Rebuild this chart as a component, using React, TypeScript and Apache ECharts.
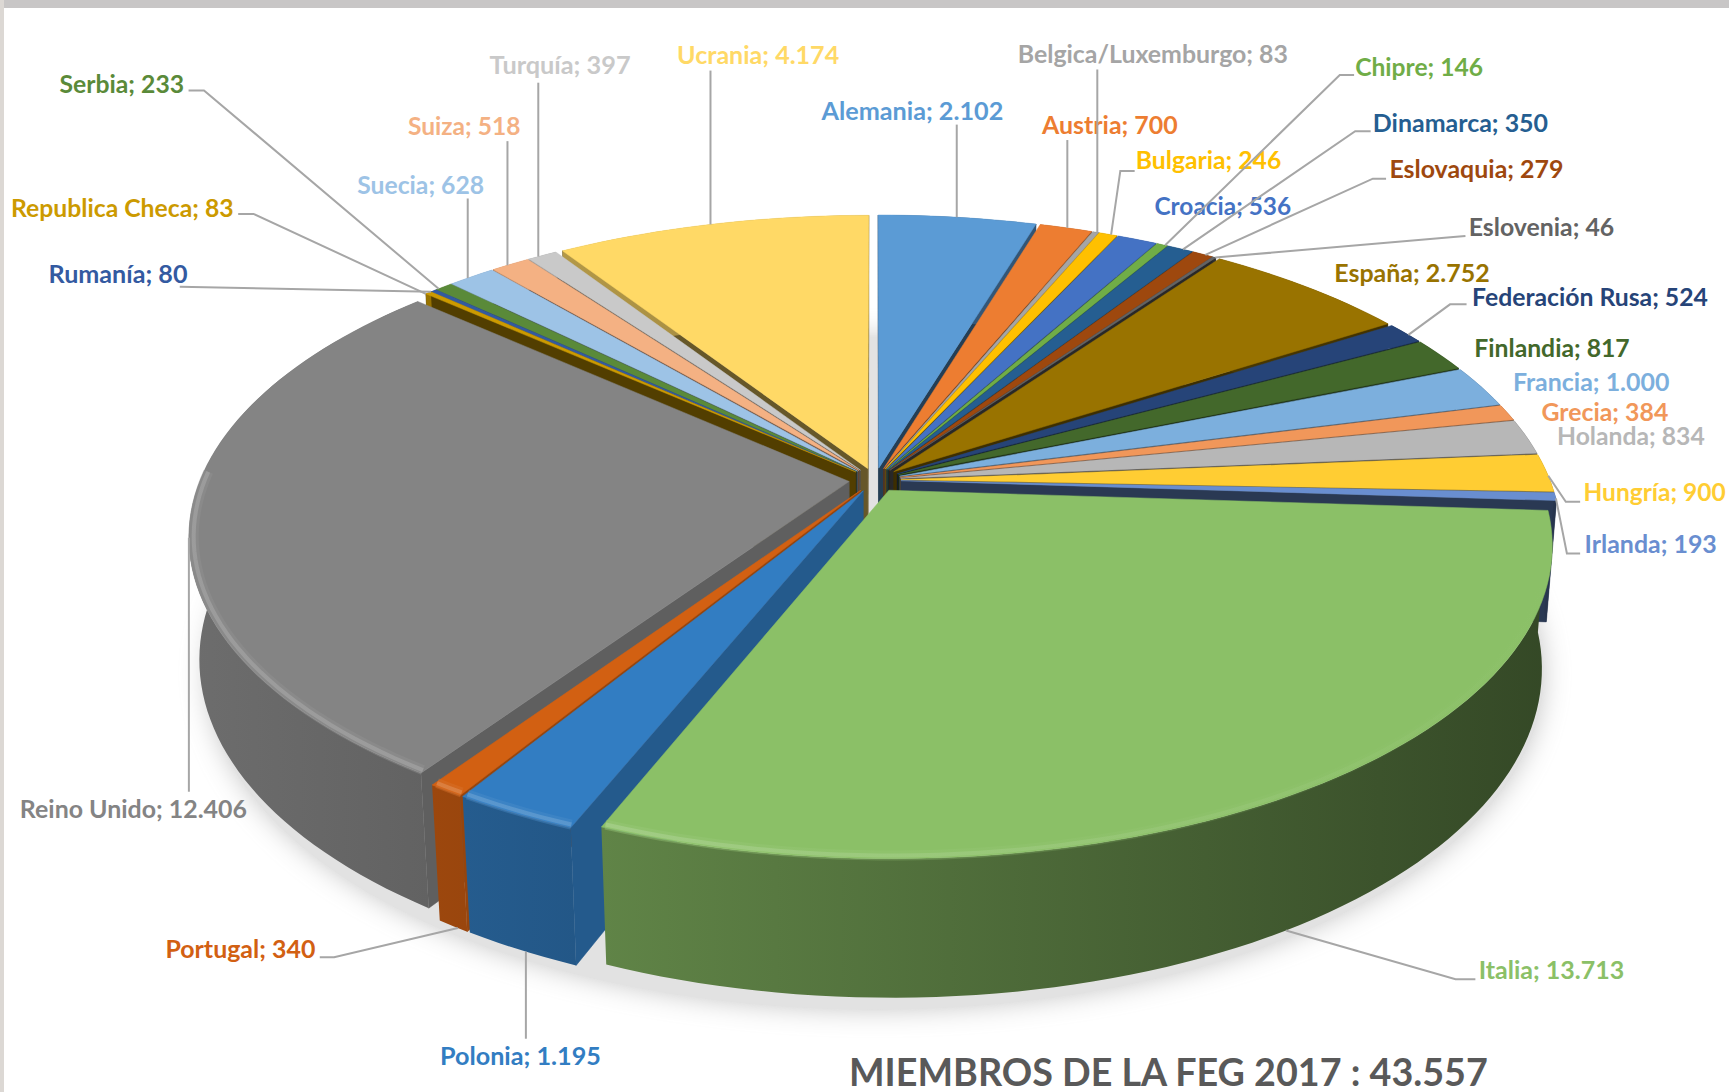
import React, { useEffect, useRef } from "react";
import * as echarts from "echarts";

const names = ["Alemania","Austria","Belgica/Luxemburgo","Bulgaria","Croacia","Chipre","Dinamarca","Eslovaquia","Eslovenia","España","Federación Rusa","Finlandia","Francia","Grecia","Holanda","Hungría","Irlanda","Italia","Polonia","Portugal","Reino Unido","Republica Checa","Rumanía","Serbia","Suecia","Suiza","Turquía","Ucrania"];
const values = [2102,700,83,246,536,146,350,279,46,2752,524,817,1000,384,834,900,193,13713,1195,340,12406,83,80,233,628,518,397,4174];
const colors = ["#5B9BD5","#ED7D31","#A5A5A5","#FFC000","#4472C4","#70AD47","#255E91","#9E480E","#636363","#997300","#264478","#43682B","#7CAFDD","#F1975A","#B7B7B7","#FFCD33","#698ED0","#8BC067","#327DC2","#D26012","#848484","#CC9A00","#335AA1","#5A8A39","#9DC3E6","#F4B183","#C9C9C9","#FFD966"];
const titleText = "MIEMBROS DE LA FEG 2017 : 43.557";

// Layout of the annotations, in the 1568-wide coordinates of the picture:
// [text left, text right, text centre y, leader points from the label towards the slice, x where the leader meets the slice]
const K = 1729 / 1568;
const labelLayout: [number, number, number, number[][], number][] = [
  [745, 910, 100, [[868, 113]], 868],
  [945, 1068, 113, [[968, 127]], 968],
  [923, 1168, 49, [[995, 63]], 995],
  [1030, 1162, 145, [[1029, 155], [1016, 155]], 1008],
  [1047, 1171, 186, [], 0],
  [1229, 1345, 60, [[1228, 68], [1215, 68]], 1057],
  [1245, 1404, 111, [[1243, 119], [1229, 119]], 1073],
  [1260, 1418, 153, [[1257, 162], [1245, 162]], 1093],
  [1332, 1464, 206, [[1329, 214], [1318, 215]], 1105],
  [1210, 1351, 247, [], 0],
  [1335, 1549, 269, [[1330, 276], [1315, 276]], 1277],
  [1337, 1478, 315, [], 0],
  [1372, 1514, 346, [], 0],
  [1398, 1513, 373, [], 0],
  [1412, 1546, 395, [], 0],
  [1436, 1565, 446, [[1433, 455], [1420, 455]], 1404],
  [1437, 1557, 493, [[1433, 502], [1421, 502]], 1411],
  [1341, 1473, 879, [[1338, 888], [1320, 888]], 1166],
  [399, 545, 957, [[477, 942]], 477],
  [150, 286, 860, [[290, 868], [303, 868]], 415],
  [18, 224, 733, [[170, 718]], 170],
  [10, 212, 188, [[216, 194], [230, 194]], 375],
  [44, 170, 248, [[163, 260]], 385],
  [54, 167, 76, [[171, 82], [185, 82]], 398],
  [324, 439, 167, [[424, 180]], 424],
  [370, 472, 114, [[460, 128]], 460],
  [444, 572, 59, [[488, 75]], 488],
  [614, 761, 50, [[644, 64]], 644],
];

// Projection of the tilted disc
const CX = 875, CY = 480, RX = 649, RY = 300.7, H = 122, A = 0.173, B = 0.015, E = 0.04;
const rad = (d: number) => (d * Math.PI) / 180;
const proj = (X: number, Z: number, h: number) => {
  const d = 1 + A * Z + B * h;
  return [CX + (X * RX) / d, CY - (Z * RY) / d + (h * H) / d];
};

const total = values.reduce((a, b) => a + b, 0);
let acc = 0;
const slices = values.map((v, i) => {
  const a0 = (acc / total) * 360;
  acc += v;
  const a1 = (acc / total) * 360;
  const mid = (a0 + a1) / 2;
  return { i, a0, a1, mid, ex: E * Math.sin(rad(mid)), ez: E * Math.cos(rad(mid)) };
});
const rim = (s: any, deg: number, h: number, r = 1) =>
  proj(s.ex + r * Math.sin(rad(deg)), s.ez + r * Math.cos(rad(deg)), h);
const arc = (s: any, a0: number, a1: number, h: number, r = 1) => {
  const n = Math.max(2, Math.ceil((a1 - a0) / 1.5));
  const out: number[][] = [];
  for (let k = 0; k <= n; k++) out.push(rim(s, a0 + ((a1 - a0) * k) / n, h, r));
  return out;
};

const hex = (c: string) => [1, 3, 5].map((p) => parseInt(c.slice(p, p + 2), 16));
const shade = (c: string, f: number) => {
  const [r, g, b] = hex(c);
  return `rgb(${Math.round(r * f)},${Math.round(g * f)},${Math.round(b * f)})`;
};
const lightRgba = (c: string, mix: number, alpha: number) => {
  const [r, g, b] = hex(c).map((v) => Math.round(v + (255 - v) * mix));
  return `rgba(${r},${g},${b},${alpha})`;
};
const wallFactor = (x: number) => Math.max(0.35, 0.82 - (x - 200) * 0.00033);
const faceFactor = (deg: number) => (deg > 190 && deg < 230 ? 0.72 : 0.4);

const italyIndex = names.indexOf("Italia");
const drawOrder = slices
  .slice()
  .sort((a, b) => {
    if (a.i === italyIndex) return 1;
    if (b.i === italyIndex) return -1;
    return Math.cos(rad(b.mid)) - Math.cos(rad(a.mid));
  })
  .map((s) => s.i);

const fmt = (v: number) => String(v).replace(/\B(?=(\d{3})+$)/g, ".");
const LABEL_FONT = 24;
const FAMILY = "Lato, 'Noto Sans', sans-serif";
const measure = (() => {
  const ctx = document.createElement("canvas").getContext("2d")!;
  return (t: string) => {
    ctx.font = `700 ${LABEL_FONT}px ${FAMILY}`;
    return ctx.measureText(t).width;
  };
})();

function renderSlice(_p: any, api: any) {
  const s = slices[api.value(0)];
  const c = colors[s.i];
  const apexT = proj(s.ex, s.ez, 0);
  const apexB = proj(s.ex, s.ez, 1);
  const inner = rim(s, s.mid, 0, 0.5);
  const side = (r: number[], p: number[]) =>
    (r[0] - apexT[0]) * (p[1] - apexT[1]) - (r[1] - apexT[1]) * (p[0] - apexT[0]);
  const kids: any[] = [];
  const face = (deg: number) => {
    const rT = rim(s, deg, 0);
    const probe = [(rT[0] + apexT[0]) / 2, (rT[1] + apexT[1]) / 2 + 10];
    if (side(rT, probe) * side(rT, inner) >= 0) return; // turned away from the viewer
    const col = shade(c, faceFactor(deg));
    kids.push({
      type: "polygon",
      shape: { points: [apexT, rT, rim(s, deg, 1), apexB] },
      style: { fill: col, stroke: col, lineWidth: 0.5 },
    });
  };
  face(s.a0);
  face(s.a1);
  const top = arc(s, s.a0, s.a1, 0);
  const bottom = arc(s, s.a0, s.a1, 1);
  const xs = top.concat(bottom).map((p) => p[0]);
  const xMin = Math.min(...xs), xMax = Math.max(...xs);
  kids.push({
    type: "polygon",
    shape: { points: top.concat(bottom.slice().reverse()) },
    style: {
      fill: new echarts.graphic.LinearGradient(xMin, 0, xMax + 1, 0, [
        { offset: 0, color: shade(c, wallFactor(xMin)) },
        { offset: 1, color: shade(c, wallFactor(xMax)) },
      ], true),
    },
  });
  kids.push({
    type: "polygon",
    shape: { points: [apexT].concat(top) },
    style: { fill: c, stroke: c, lineWidth: 0.5 },
  });
  const f0 = Math.max(s.a0, 95), f1 = Math.min(s.a1, 272);
  if (f1 > f0) {
    const edge = arc(s, f0 + 0.15, f1 - 0.15, 0, 0.993);
    const ex = edge.map((p) => p[0]);
    const l = Math.min(...ex), r = Math.max(...ex) + 1;
    const alpha = (x: number) => Math.max(0, Math.min(1, (1250 - x) / 500));
    const band = (mix: number, width: number, op: number) =>
      kids.push({
        type: "polyline",
        shape: { points: edge },
        style: {
          fill: "none",
          lineWidth: width,
          stroke: new echarts.graphic.LinearGradient(l, 0, r, 0, [
            { offset: 0, color: lightRgba(c, mix, op * alpha(l)) },
            { offset: 1, color: lightRgba(c, mix, op * alpha(r)) },
          ], true),
        },
      });
    band(0.12, 10, 0.4);
    band(0.25, 4, 0.7);
  }
  return { type: "group", children: kids };
}

function renderLabel(_p: any, api: any) {
  const i = api.value(0);
  const s = slices[i];
  const [tl, tr, ty, leader, tx] = labelLayout[i];
  const text = `${names[i]}; ${fmt(values[i])}`;
  const kids: any[] = [];
  if (leader.length) {
    const front = s.mid > 120 && s.mid < 240;
    let anchor = rim(s, s.mid, front ? 1 : 0);
    for (let d = s.a0; d <= s.a1; d += 0.1) {
      const p = rim(s, d, front ? 1 : 0);
      if (Math.abs(p[0] - tx * K) < Math.abs(anchor[0] - tx * K)) anchor = p;
    }
    const pts = leader.map((p) => [p[0] * K, p[1] * K]);
    if (leader.length === 1 && leader[0][0] === tx) pts[0][0] = anchor[0];
    kids.push({
      type: "polyline",
      shape: { points: pts.concat([anchor]) },
      style: { fill: "none", stroke: "#a6a6a6", lineWidth: 2 },
    });
  }
  kids.push({
    type: "text",
    x: tl * K,
    y: ty * K,
    scaleX: ((tr - tl) * K) / measure(text),
    style: {
      text,
      fill: colors[i],
      fontFamily: FAMILY,
      fontSize: LABEL_FONT,
      fontWeight: 700,
      align: "left",
      verticalAlign: "middle",
    },
  });
  return { type: "group", children: kids };
}

const shadowPoints = (() => {
  const pts: number[][] = [];
  for (let d = 0; d < 360; d += 3) {
    const p = proj(1.03 * Math.sin(rad(d)), 1.03 * Math.cos(rad(d)), 1);
    pts.push([p[0], p[1] + 14]);
  }
  return pts;
})();

export default function App() {
  const ref = useRef<HTMLDivElement>(null);
  useEffect(() => {
    document.body.style.margin = "0";
    document.body.style.background = "#fff";
    const chart = echarts.init(ref.current!, undefined, { renderer: "svg" });
    chart.setOption({
      animation: false,
      backgroundColor: "#ffffff",
      title: {
        text: titleText,
        left: 849,
        top: 1052,
        padding: 0,
        textStyle: { color: "#595959", fontFamily: FAMILY, fontWeight: 700, fontSize: 37.7 },
      },
      graphic: [
        { type: "rect", shape: { x: 0, y: 0, width: 1729, height: 8 }, style: { fill: "#c8c6c6" }, silent: true },
        { type: "rect", shape: { x: 0, y: 0, width: 4, height: 1092 }, style: { fill: "#dcd8d4" }, silent: true },
        {
          type: "polygon",
          shape: { points: shadowPoints },
          style: { fill: "#e2e2e2", shadowBlur: 26, shadowColor: "#c8c8c8" },
          silent: true,
        },
      ],
      series: [
        {
          type: "custom",
          coordinateSystem: "none",
          silent: true,
          renderItem: renderSlice,
          data: drawOrder.map((i) => [i, values[i]]),
          z: 2,
        },
        {
          type: "custom",
          coordinateSystem: "none",
          silent: true,
          renderItem: renderLabel,
          data: names.map((_, i) => [i, values[i]]),
          z: 3,
        },
      ],
    });
    return () => chart.dispose();
  }, []);
  return <div ref={ref} style={{ width: 1729, height: 1092, overflow: "hidden" }} />;
}
